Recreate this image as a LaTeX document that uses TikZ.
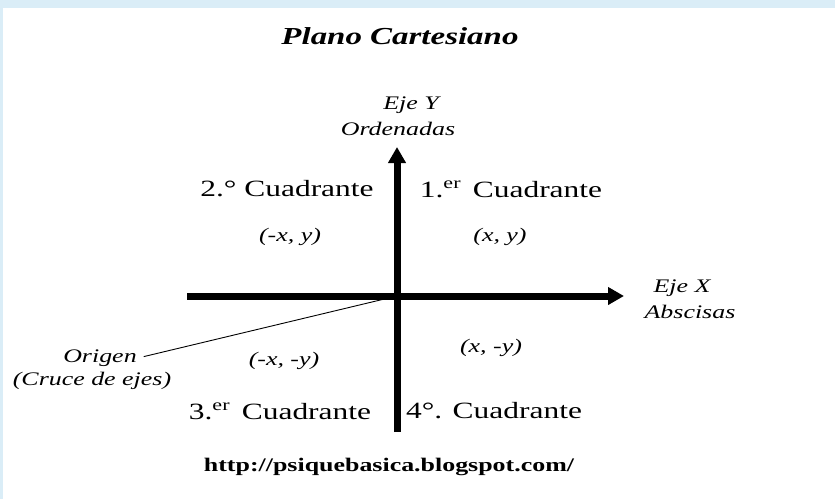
\documentclass[tikz,border=0pt]{standalone}
\usepackage{fontspec}
\setmainfont[FakeStretch=1.35]{Liberation Serif}
\usepackage{xcolor}
\usepackage{tikz}
\usetikzlibrary{arrows.meta, positioning}
\definecolor{frameblue}{RGB}{218,237,247}

\begin{document}
\begin{tikzpicture}[x=1pt,y=-1pt,node distance=24pt,
                    quad node/.style={inner sep=1pt,font=\fontsize{23.3}{26}\selectfont},
                    pair node/.style={inner sep=1pt,font=\fontsize{19.2}{22}\selectfont\itshape},
                    axis/.style={line width=7pt,-{Triangle[length=16pt,width=17pt]}}]

  % frame
  \fill[frameblue] (0,0) rectangle (835,499);
  \fill[white] (3,8) rectangle (835,499);
  \useasboundingbox (0,0) rectangle (835,499);

  \node[inner sep=1pt,font=\fontsize{24.4}{28}\selectfont\bfseries\itshape] (title) at (400,36) {Plano Cartesiano};

  % axes
  \coordinate (O) at (397,296);
  \coordinate (xl) at (187,296);
  \coordinate (xr) at (624,296);
  \coordinate (yt) at (397,147);
  \coordinate (yb) at (397,432);
  \draw[axis] (xl) -- (xr);
  \draw[axis] (yb) -- (yt);

  \node[pair node] (ejey) at (411,105) {Eje Y};
  \node[pair node] (ordy) [below of=ejey, xshift=-13pt] {Ordenadas};
  \node[pair node] (ejex) at (682,288) {Eje X};
  \node[pair node] (absx) [below of=ejex, xshift=8pt] {Abscisas};

  % quadrants
  \node[quad node] (q2) at (287,189) {2.° Cuadrante};
  \node[quad node] (q1) at (511,189) {1.\textsuperscript{er}\, Cuadrante};
  \node[quad node] (q3) at (280,411) {3.\textsuperscript{er}\, Cuadrante};
  \node[quad node] (q4) at (494,411) {4°. Cuadrante};

  \node[pair node] (p2) at (290,237) {(-x, y)};
  \node[pair node] (p1) at (500,237) {(x, y)};
  \node[pair node] (p3) at (284,361) {(-x, -y)};
  \node[pair node] (p4) at (491,348) {(x, -y)};

  % origin
  \node[pair node] (orig) at (100,358) {Origen};
  \node[pair node] (cruce) [below of=orig, xshift=-8pt, yshift=1pt] {(Cruce de ejes)};
  \draw[line width=0.9pt,shorten <=6pt] (orig.east) -- (O);

  \node[inner sep=1pt,font=\fontsize{19.2}{22}\selectfont\bfseries] (url) at (389,467) {http://psiquebasica.blogspot.com/};

\end{tikzpicture}
\end{document}
